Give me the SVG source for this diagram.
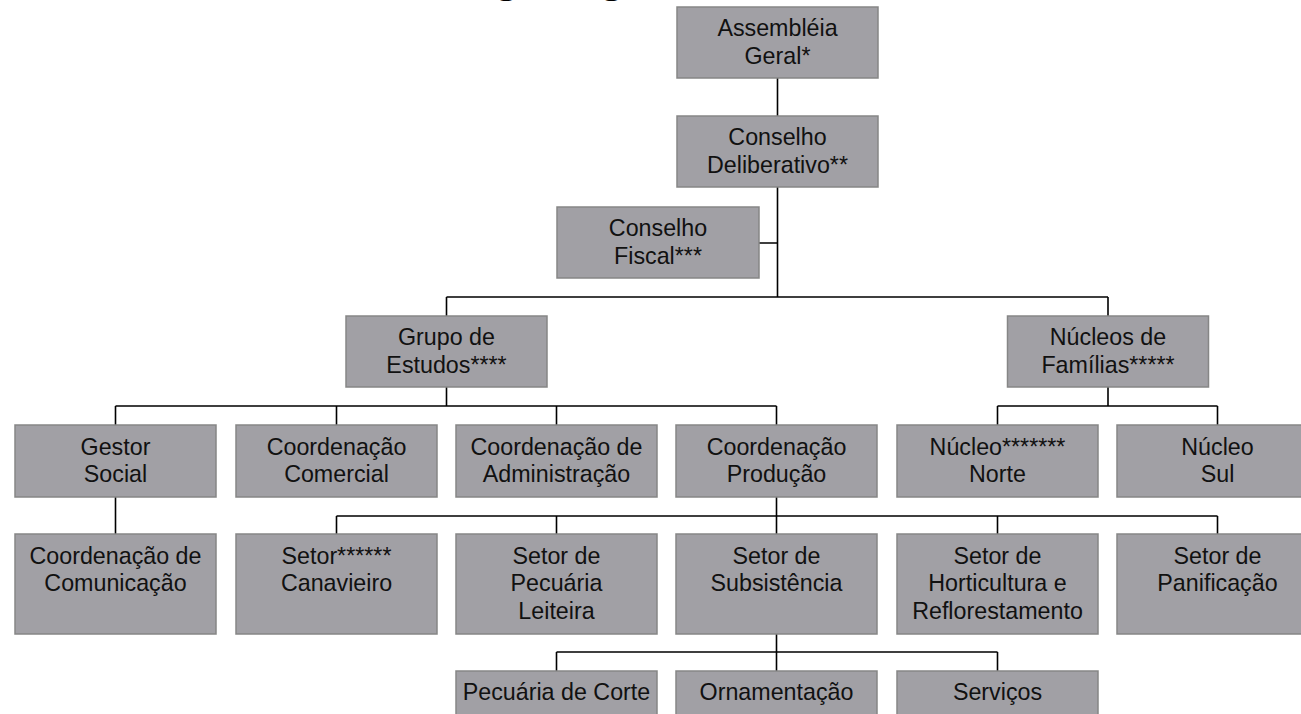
<svg xmlns="http://www.w3.org/2000/svg" width="1301" height="714" viewBox="0 0 1301 714">
<style>
.box{fill:#a1a0a5;stroke:#868686;stroke-width:1.5}
.t{font-family:"Liberation Sans",Arial,sans-serif;font-size:24px;fill:#111;text-anchor:middle;transform-box:fill-box;transform-origin:center;transform:scaleX(0.97)}
.c{fill:none;stroke:#000;stroke-width:1.6}
.title{font-family:"Liberation Sans",Arial,sans-serif;font-size:44px;font-weight:bold;fill:#000}
</style>
<rect width="1301" height="714" fill="#fff"/>
<text class="title" x="442" y="-8">Organograma</text>
<g id="connectors">
<path class="c" d="M777.5,78V116M777.5,187V297M759,243H777.5M446.5,297H1108M446.5,297V316M1108,297V316"/>
<path class="c" d="M446.5,387V406M115.5,406H776.5M115.5,406V425M336.5,406V425M556.5,406V425M776.5,406V425"/>
<path class="c" d="M1108,387V406M997.5,406H1217.5M997.5,406V425M1217.5,406V425"/>
<path class="c" d="M115.5,497V534"/>
<path class="c" d="M776.5,497V516M336.5,516H1217.5M336.5,516V534M556.5,516V534M776.5,516V534M997.5,516V534M1217.5,516V534"/>
<path class="c" d="M776.5,634V652M556.5,652H997.5M556.5,652V671M776.5,652V671M997.5,652V671"/>
</g>
<g id="assembleia"><rect class="box" x="677" y="7" width="201" height="71"/><text class="t" x="777.5" y="36.5">Assembléia</text><text class="t" x="777.5" y="64">Geral*</text></g>
<g id="deliberativo"><rect class="box" x="677" y="116" width="201" height="71"/><text class="t" x="777.5" y="145.5">Conselho</text><text class="t" x="777.5" y="173">Deliberativo**</text></g>
<g id="fiscal"><rect class="box" x="557" y="207" width="202" height="71"/><text class="t" x="658" y="236.5">Conselho</text><text class="t" x="658" y="264">Fiscal***</text></g>
<g id="grupo"><rect class="box" x="346" y="316" width="201" height="71"/><text class="t" x="446.5" y="345.5">Grupo de</text><text class="t" x="446.5" y="373">Estudos****</text></g>
<g id="nucleos"><rect class="box" x="1007.5" y="316" width="201" height="71"/><text class="t" x="1108" y="345.5">Núcleos de</text><text class="t" x="1108" y="373">Famílias*****</text></g>
<g id="gestor"><rect class="box" x="15" y="425" width="201" height="72"/><text class="t" x="115.5" y="455">Gestor</text><text class="t" x="115.5" y="482.5">Social</text></g>
<g id="comercial"><rect class="box" x="236" y="425" width="201" height="72"/><text class="t" x="336.5" y="455">Coordenação</text><text class="t" x="336.5" y="482.5">Comercial</text></g>
<g id="administracao"><rect class="box" x="456" y="425" width="201" height="72"/><text class="t" x="556.5" y="455">Coordenação de</text><text class="t" x="556.5" y="482.5">Administração</text></g>
<g id="producao"><rect class="box" x="676" y="425" width="201" height="72"/><text class="t" x="776.5" y="455">Coordenação</text><text class="t" x="776.5" y="482.5">Produção</text></g>
<g id="norte"><rect class="box" x="897" y="425" width="201" height="72"/><text class="t" x="997.5" y="455">Núcleo*******</text><text class="t" x="997.5" y="482.5">Norte</text></g>
<g id="sul"><rect class="box" x="1117" y="425" width="201" height="72"/><text class="t" x="1217.5" y="455">Núcleo</text><text class="t" x="1217.5" y="482.5">Sul</text></g>
<g id="comunicacao"><rect class="box" x="15" y="534" width="201" height="100"/><text class="t" x="115.5" y="564">Coordenação de</text><text class="t" x="115.5" y="591.5">Comunicação</text></g>
<g id="canavieiro"><rect class="box" x="236" y="534" width="201" height="100"/><text class="t" x="336.5" y="564">Setor******</text><text class="t" x="336.5" y="591.5">Canavieiro</text></g>
<g id="leiteira"><rect class="box" x="456" y="534" width="201" height="100"/><text class="t" x="556.5" y="564">Setor de</text><text class="t" x="556.5" y="591.5">Pecuária</text><text class="t" x="556.5" y="619">Leiteira</text></g>
<g id="subsistencia"><rect class="box" x="676" y="534" width="201" height="100"/><text class="t" x="776.5" y="564">Setor de</text><text class="t" x="776.5" y="591.5">Subsistência</text></g>
<g id="horticultura"><rect class="box" x="897" y="534" width="201" height="100"/><text class="t" x="997.5" y="564">Setor de</text><text class="t" x="997.5" y="591.5">Horticultura e</text><text class="t" x="997.5" y="619">Reflorestamento</text></g>
<g id="panificacao"><rect class="box" x="1117" y="534" width="201" height="100"/><text class="t" x="1217.5" y="564">Setor de</text><text class="t" x="1217.5" y="591.5">Panificação</text></g>
<g id="corte"><rect class="box" x="456" y="671" width="201" height="71"/><text class="t" x="556.5" y="700">Pecuária de Corte</text></g>
<g id="ornamentacao"><rect class="box" x="676" y="671" width="201" height="71"/><text class="t" x="776.5" y="700">Ornamentação</text></g>
<g id="servicos"><rect class="box" x="897" y="671" width="201" height="71"/><text class="t" x="997.5" y="700">Serviços</text></g>
</svg>
